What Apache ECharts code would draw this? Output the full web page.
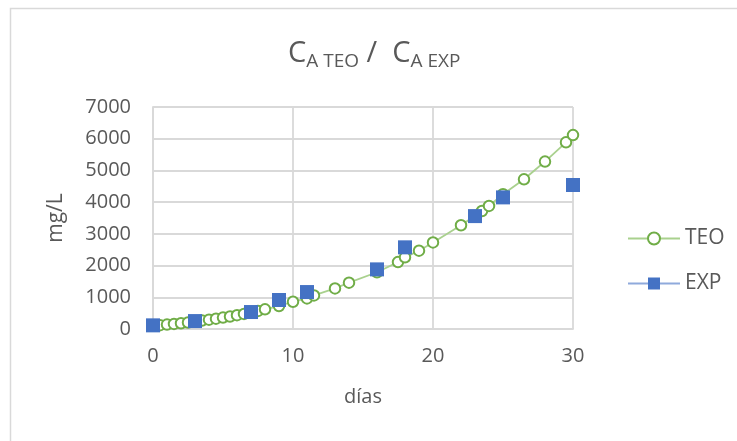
<!DOCTYPE html>
<html>
<head>
<meta charset="utf-8">
<script src="https://cdn.jsdelivr.net/npm/echarts@6/dist/echarts.min.js"></script>
<style>html,body{margin:0;padding:0;background:#fff;}#c{width:737px;height:441px;}</style>
</head>
<body>
<div id="c"></div>
<script>
// TEO (theoretical) curve
var teoDays = [0, 0.5, 1, 1.5, 2, 2.5, 3, 3.5, 4, 4.5, 5, 5.5, 6, 6.5, 7, 7.5, 8, 9, 10, 11, 11.5, 13, 14, 16, 17.5, 18, 19, 20, 22, 23.5, 24, 25, 26.5, 28, 29.5, 30];
var teoValues = [100, 120, 140, 160, 180, 205, 235, 265, 295, 325, 360, 395, 435, 475, 520, 570, 620, 725, 860, 965, 1060, 1280, 1460, 1790, 2110, 2260, 2470, 2730, 3270, 3720, 3880, 4250, 4720, 5280, 5885, 6115];
// EXP (experimental) points
var expDays = [0, 3, 7, 9, 11, 16, 18, 23, 25, 30];
var expValues = [115, 250, 535, 915, 1165, 1880, 2575, 3560, 4150, 4540];
var xTicks = [0, 10, 20, 30];
var yTicks = [0, 1000, 2000, 3000, 4000, 5000, 6000, 7000];

function pairs(xs, ys) { return xs.map(function (x, i) { return [x, ys[i]]; }); }
// markers only: a gap after every point so no connecting line is drawn
function pointsOnly(xs, ys) {
  var out = [];
  xs.forEach(function (x, i) { out.push([x, ys[i]]); if (i < xs.length - 1) out.push([x, null]); });
  return out;
}

var FONT = '"Open Sans", "Liberation Sans", sans-serif';
var GRAY = '#595959';
var GRID = '#d9d9d9';

var chart = echarts.init(document.getElementById('c'), null, {renderer: 'canvas'});
chart.setOption({
  animation: false,
  backgroundColor: '#fff',
  graphic: [{
    type: 'rect', silent: true,
    shape: {x: 10.5, y: 8.5, width: 760, height: 460},
    style: {fill: 'none', stroke: GRID, lineWidth: 1.5}
  }],
  title: {
    text: '{c|C}{s|A TEO}{c| /  C}{s|A EXP}',
    left: 283, top: 31,
    textStyle: {
      fontWeight: 'normal',
      rich: {
        c: {fontFamily: FONT, fontSize: 29, fontWeight: 'normal', color: GRAY, lineHeight: 35},
        s: {fontFamily: FONT, fontSize: 19, fontWeight: 'normal', color: GRAY, lineHeight: 19, padding: [16, 0, 0, 0]}
      }
    }
  },
  grid: {left: 153, right: 164, top: 107, bottom: 112, containLabel: false},
  xAxis: {
    type: 'value', min: 0, max: 30, interval: 10,
    name: 'días', nameLocation: 'middle', nameGap: 58,
    nameTextStyle: {fontFamily: FONT, fontSize: 20, color: GRAY},
    axisLine: {show: true, lineStyle: {color: GRID, width: 1.8}},
    axisTick: {show: false},
    splitLine: {show: true, lineStyle: {color: GRID, width: 1.8}},
    axisLabel: {fontFamily: FONT, fontSize: 20, color: GRAY, margin: 17,
      formatter: function (v) { return xTicks.indexOf(v) >= 0 ? String(v) : ''; }}
  },
  yAxis: {
    type: 'value', min: 0, max: 7000, interval: 1000,
    name: 'mg/L', nameLocation: 'middle', nameGap: 86, nameRotate: 90,
    nameTextStyle: {fontFamily: FONT, fontSize: 21, color: GRAY},
    axisLine: {show: true, lineStyle: {color: GRID, width: 1.8}},
    axisTick: {show: false},
    splitLine: {show: true, lineStyle: {color: GRID, width: 1.8}},
    axisLabel: {fontFamily: FONT, fontSize: 20, color: GRAY, margin: 22,
      formatter: function (v) { return yTicks.indexOf(v) >= 0 ? String(v) : ''; }}
  },
  legend: {
    orient: 'vertical', left: 622, top: 223,
    itemWidth: 52, itemHeight: 15, itemGap: 24,
    textStyle: {fontFamily: FONT, fontSize: 21, color: GRAY},
    data: [
      {name: 'TEO'},
      {name: 'EXP'}
    ]
  },
  series: [
    {
      name: 'TEO', type: 'line', data: pairs(teoDays, teoValues),
      symbol: 'emptyCircle', symbolSize: 10.5,
      lineStyle: {color: '#a9d18e', width: 1.8},
      itemStyle: {color: '#70ad47', borderColor: '#70ad47', borderWidth: 3}
    },
    {
      name: 'EXP', type: 'line', data: pointsOnly(expDays, expValues),
      connectNulls: false,
      symbol: 'rect', symbolSize: 14,
      lineStyle: {color: '#8faadc', width: 1.5},
      itemStyle: {color: '#4472c4', borderColor: '#4472c4', borderWidth: 0}
    }
  ]
});
</script>
</body>
</html>
